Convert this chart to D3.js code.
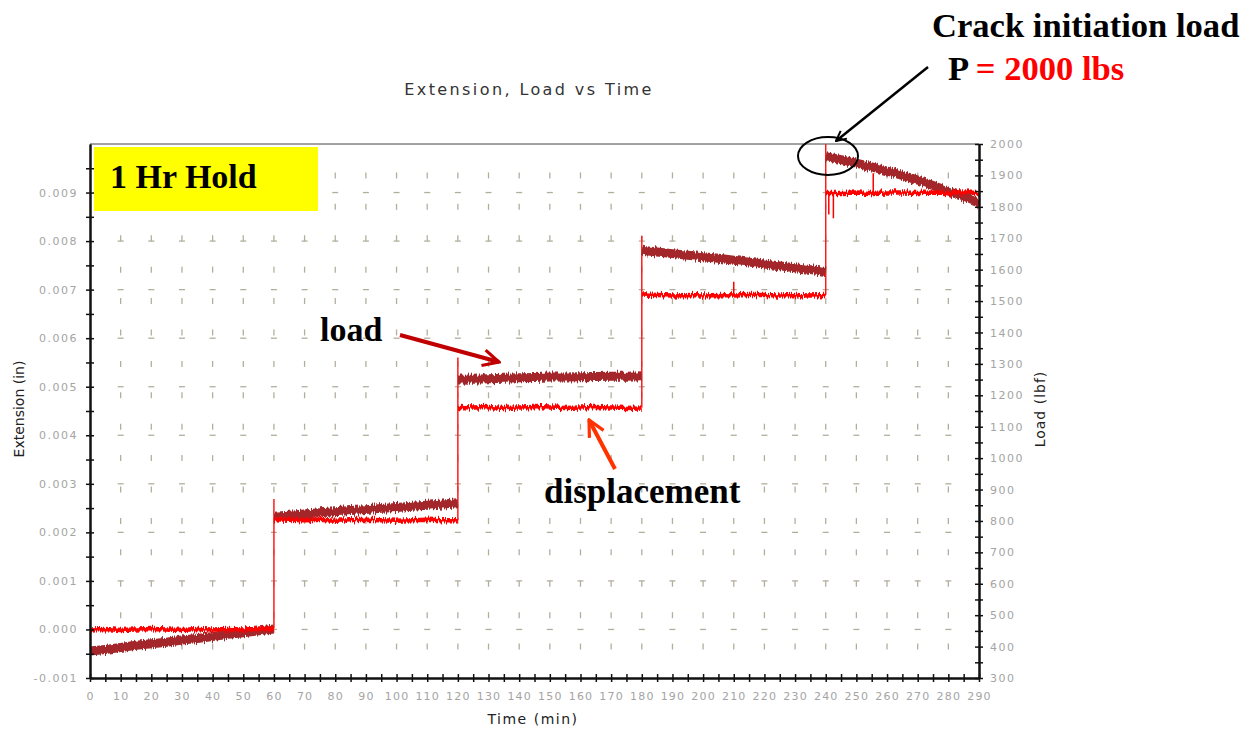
<!DOCTYPE html>
<html>
<head>
<meta charset="utf-8">
<script src="https://cdn.jsdelivr.net/npm/d3@7"></script>
<style>
  body { margin: 0; background: #fff; }
  .tick text { font-family: "DejaVu Sans", sans-serif; font-size: 11px; fill: #a4a4a4; letter-spacing: 1.5px; }
  .axis-title { font-family: "DejaVu Sans", sans-serif; font-size: 14px; fill: #222; }
  .note { font-family: "Liberation Serif", "Times New Roman", serif; font-weight: bold; }
</style>
</head>
<body>
<div class="chart"></div>
<script>
// Data
var holdStart = [0, 60, 120, 180, 240];
var holdStep = 5; // minutes between readings

// load (lbf), right axis
var loadHold = [
  [386, 391, 397, 404, 409, 414, 421, 426, 432, 439, 444, 450, 456],
  [815, 818, 822, 826, 829, 833, 836, 840, 843, 847, 850, 854, 858],
  [1252, 1251, 1253, 1254, 1256, 1257, 1258, 1258, 1259, 1260, 1261, 1261, 1262],
  [1662, 1656, 1651, 1646, 1641, 1636, 1630, 1624, 1618, 1612, 1606, 1600, 1594],
  [1960, 1950, 1939, 1927, 1914, 1900, 1885, 1868, 1850, 1831, 1812]
];

// extension (in), left axis
var dispHold = [
  [0.00000, 0.00001, -0.00001, 0.00000, 0.00001, 0.00000, -0.00001, 0.00001, 0.00000, 0.00001, 0.00000, 0.00001, 0.00002],
  [0.00227, 0.00226, 0.00225, 0.00226, 0.00224, 0.00225, 0.00226, 0.00225, 0.00224, 0.00225, 0.00226, 0.00225, 0.00225],
  [0.00458, 0.00457, 0.00458, 0.00456, 0.00457, 0.00458, 0.00457, 0.00456, 0.00457, 0.00458, 0.00457, 0.00456, 0.00457],
  [0.00690, 0.00689, 0.00688, 0.00689, 0.00688, 0.00689, 0.00688, 0.00689, 0.00689, 0.00688, 0.00689, 0.00688, 0.00689],
  [0.00899, 0.00899, 0.00900, 0.00899, 0.00900, 0.00900, 0.00899, 0.00900, 0.00899, 0.00900, 0.00899]
];

// load peaks at each step-up
var jumpTime = [60, 120, 180, 240];
var jumpPeakLoad = [870, 1320, 1707, 2000];

// short spikes in the extension trace
var spikeTime = [210, 241, 242.5, 255.5];
var spikeFrom = [0.00688, 0.00899, 0.00899, 0.00899];
var spikeTo = [0.00716, 0.00855, 0.00847, 0.00940];

var xTicks = d3.range(0, 291, 10);
var leftTicks = d3.range(-0.001, 0.0095, 0.001);
var rightTicks = d3.range(300, 2001, 100);

var svgWidth = 1259;
var svgHeight = 735;

var margin = { top: 144, right: 280, bottom: 57, left: 90 };
var width = svgWidth - margin.left - margin.right;
var height = svgHeight - margin.top - margin.bottom;

var svg = d3.select(".chart")
  .append("svg")
  .attr("width", svgWidth)
  .attr("height", svgHeight);

var defs = svg.append("defs");

// jitter filter: shifts each column up/down a little so the traces look noisy
var noise = defs.append("filter")
  .attr("id", "jitter")
  .attr("filterUnits", "userSpaceOnUse")
  .attr("x", 0).attr("y", 0).attr("width", svgWidth).attr("height", svgHeight);
noise.append("feTurbulence")
  .attr("type", "fractalNoise")
  .attr("baseFrequency", "0.9 0.01")
  .attr("numOctaves", 2)
  .attr("seed", 3)
  .attr("result", "turb");
noise.append("feColorMatrix")
  .attr("in", "turb")
  .attr("type", "matrix")
  .attr("values", "0 0 0 0 0.5  0 1 0 0 0  0 0 1 0 0  0 0 0 0 1")
  .attr("result", "map");
noise.append("feDisplacementMap")
  .attr("in", "SourceGraphic")
  .attr("in2", "map")
  .attr("scale", 7)
  .attr("xChannelSelector", "R")
  .attr("yChannelSelector", "G");

var chartGroup = svg.append("g")
  .attr("transform", `translate(${margin.left}, ${margin.top})`);

var x = d3.scaleLinear().domain([0, 290]).range([0, width]);
var yLeft = d3.scaleLinear().domain([-0.001, 0.010]).range([height, 0]);
var yRight = d3.scaleLinear().domain([300, 2000]).range([height, 0]);

// title
svg.append("text")
  .attr("x", 529)
  .attr("y", 95)
  .attr("text-anchor", "middle")
  .style("font-family", "DejaVu Sans, sans-serif")
  .style("font-size", "16px")
  .style("letter-spacing", "2.4px")
  .style("fill", "#333")
  .text("Extension, Load vs Time");

// dashed grid marks
var gridX = d3.range(10, 290, 10);
var gridG = chartGroup.append("g").attr("stroke", "#b3ae9c").attr("stroke-width", 1.3);
gridX.forEach(function(t) {
  rightTicks.slice(1, -1).forEach(function(v) {
    gridG.append("line")
      .attr("x1", x(t)).attr("x2", x(t))
      .attr("y1", yRight(v) - 3).attr("y2", yRight(v) + 3);
  });
  leftTicks.slice(1).forEach(function(v) {
    gridG.append("line")
      .attr("x1", x(t) - 3).attr("x2", x(t) + 3)
      .attr("y1", yLeft(v)).attr("y2", yLeft(v));
  });
});

// top border
chartGroup.append("line")
  .attr("x1", 0).attr("x2", width)
  .attr("y1", 0).attr("y2", 0)
  .attr("stroke", "#444").attr("stroke-width", 1);

// series
var loadLine = d3.line()
  .x(function(d) { return x(d.t); })
  .y(function(d) { return yRight(d.v); });
var dispLine = d3.line()
  .x(function(d) { return x(d.t); })
  .y(function(d) { return yLeft(d.v); });

function holdPoints(values, i) {
  return values.map(function(v, j) { return { t: holdStart[i] + j * holdStep, v: v }; });
}

// vertical step-ups (thin red)
jumpTime.forEach(function(t, i) {
  var prev = dispHold[i];
  chartGroup.append("line")
    .attr("x1", x(t)).attr("x2", x(t))
    .attr("y1", yLeft(prev[prev.length - 1]))
    .attr("y2", yRight(jumpPeakLoad[i]))
    .attr("stroke", "#ff1a1a").attr("stroke-width", 1.5);
});

var seriesG = chartGroup.append("g").attr("filter", "url(#jitter)");

// load: thick brown band
loadHold.forEach(function(vals, i) {
  seriesG.append("path")
    .datum(holdPoints(vals, i))
    .attr("d", loadLine)
    .attr("fill", "none")
    .attr("stroke", "#a3282a")
    .attr("stroke-width", 9);
});

// extension: red band
dispHold.forEach(function(vals, i) {
  seriesG.append("path")
    .datum(holdPoints(vals, i))
    .attr("d", dispLine)
    .attr("fill", "none")
    .attr("stroke", "#ff0000")
    .attr("stroke-width", 4.5);
});

spikeTime.forEach(function(t, i) {
  chartGroup.append("line")
    .attr("x1", x(t)).attr("x2", x(t))
    .attr("y1", yLeft(spikeFrom[i])).attr("y2", yLeft(spikeTo[i]))
    .attr("stroke", "#ff0000").attr("stroke-width", 1.5);
});

// axes with ticks crossing the line
function crossTicks(g, horizontal) {
  g.selectAll(".tick line")
    .attr(horizontal ? "y1" : "x1", -4)
    .attr(horizontal ? "y2" : "x2", 4)
    .attr("stroke", "#111")
    .attr("stroke-width", 1.5);
  g.select(".domain").attr("stroke", "#111").attr("stroke-width", 2);
}

function extFormat(d) {
  return Math.abs(d) < 1e-9 ? "0.000" : d.toFixed(3);
}

var leftMinor = chartGroup.append("g")
  .call(d3.axisLeft(yLeft).tickValues(d3.range(-0.0005, 0.0100, 0.001)).tickFormat("").tickSizeOuter(0));
crossTicks(leftMinor, false);
var leftAxis = chartGroup.append("g")
  .call(d3.axisLeft(yLeft).tickValues(leftTicks).tickFormat(extFormat).tickSizeOuter(0).tickPadding(6));
crossTicks(leftAxis, false);

var rightMinor = chartGroup.append("g")
  .attr("transform", `translate(${width}, 0)`)
  .call(d3.axisRight(yRight).tickValues(d3.range(350, 2000, 100)).tickFormat("").tickSizeOuter(0));
crossTicks(rightMinor, false);
var rightAxis = chartGroup.append("g")
  .attr("transform", `translate(${width}, 0)`)
  .call(d3.axisRight(yRight).tickValues(rightTicks).tickFormat(d3.format("d")).tickSizeOuter(0).tickPadding(5));
crossTicks(rightAxis, false);

var bottomMinor = chartGroup.append("g")
  .attr("transform", `translate(0, ${height})`)
  .call(d3.axisBottom(x).tickValues(d3.range(5, 290, 10)).tickFormat("").tickSizeOuter(0));
crossTicks(bottomMinor, true);
var bottomAxis = chartGroup.append("g")
  .attr("transform", `translate(0, ${height})`)
  .call(d3.axisBottom(x).tickValues(xTicks).tickSizeOuter(0).tickPadding(8));
crossTicks(bottomAxis, true);
bottomAxis.selectAll(".tick text").style("letter-spacing", "1.2px");

// axis titles
chartGroup.append("text")
  .attr("class", "axis-title")
  .attr("transform", "rotate(-90)")
  .attr("x", -(height / 2) + 2)
  .attr("y", -66)
  .attr("text-anchor", "middle")
  .text("Extension (in)");

chartGroup.append("text")
  .attr("class", "axis-title")
  .attr("transform", `translate(${width + 66}, ${height / 2 - 2}) rotate(-90)`)
  .attr("text-anchor", "middle")
  .style("letter-spacing", "1px")
  .text("Load (lbf)");

chartGroup.append("text")
  .attr("class", "axis-title")
  .attr("x", 443)
  .attr("y", height + 46)
  .attr("text-anchor", "middle")
  .style("letter-spacing", "1.5px")
  .text("Time (min)");

// annotations
svg.append("rect")
  .attr("x", 94).attr("y", 147)
  .attr("width", 224).attr("height", 64)
  .attr("fill", "#ffff00");
svg.append("text").attr("class", "note")
  .attr("x", 110).attr("y", 188)
  .style("font-size", "34px")
  .text("1 Hr Hold");

svg.append("text").attr("class", "note")
  .attr("x", 932).attr("y", 37)
  .style("font-size", "34.6px")
  .text("Crack initiation load");

var pText = svg.append("text").attr("class", "note")
  .attr("x", 948).attr("y", 80)
  .style("font-size", "34.6px");
pText.append("tspan").attr("fill", "#000").text("P ");
pText.append("tspan").attr("fill", "#ff0000").text("= 2000 lbs");

svg.append("text").attr("class", "note")
  .attr("x", 320).attr("y", 341)
  .style("font-size", "34px")
  .text("load");

svg.append("text").attr("class", "note")
  .attr("x", 544).attr("y", 503)
  .style("font-size", "35px")
  .text("displacement");

// arrows
function marker(id, color) {
  defs.append("marker")
    .attr("id", id)
    .attr("viewBox", "0 0 10 10")
    .attr("refX", 9).attr("refY", 5)
    .attr("markerWidth", 5).attr("markerHeight", 5)
    .attr("orient", "auto")
    .append("path")
    .attr("d", "M1,1 L9,5 L1,9")
    .attr("fill", "none")
    .attr("stroke", color)
    .attr("stroke-width", 1.6);
}
marker("arrowBlack", "#000");
marker("arrowLoad", "#c00000");
marker("arrowDisp", "#ff3300");

svg.append("line")
  .attr("x1", 928).attr("y1", 67).attr("x2", 836).attr("y2", 141)
  .attr("stroke", "#000").attr("stroke-width", 2.5)
  .attr("marker-end", "url(#arrowBlack)");

svg.append("line")
  .attr("x1", 400).attr("y1", 335).attr("x2", 499).attr("y2", 362)
  .attr("stroke", "#c00000").attr("stroke-width", 4)
  .attr("marker-end", "url(#arrowLoad)");

svg.append("line")
  .attr("x1", 615).attr("y1", 469).attr("x2", 589).attr("y2", 420)
  .attr("stroke", "#ff3300").attr("stroke-width", 4)
  .attr("marker-end", "url(#arrowDisp)");

svg.append("ellipse")
  .attr("cx", 828).attr("cy", 156)
  .attr("rx", 30).attr("ry", 19)
  .attr("fill", "none")
  .attr("stroke", "#000")
  .attr("stroke-width", 2);
</script>
</body>
</html>
